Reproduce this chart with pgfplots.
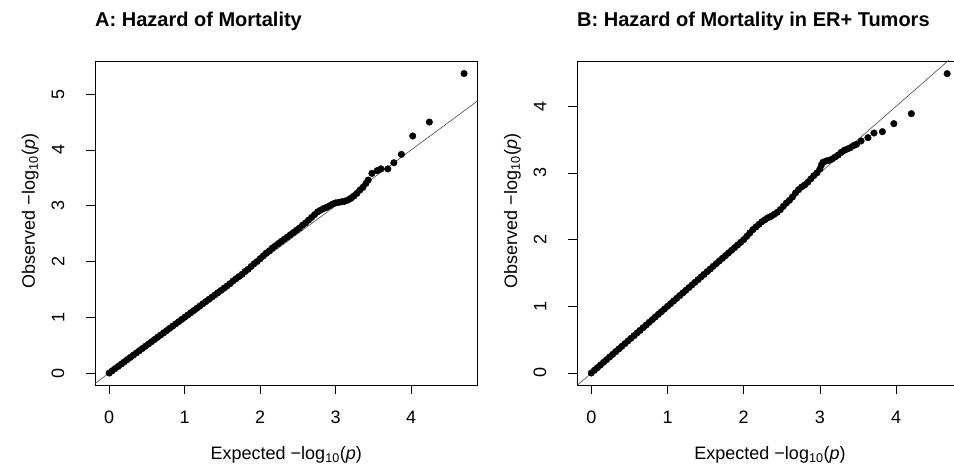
\documentclass[border=0pt]{standalone}
\usepackage{fontspec}
\setmainfont{Liberation Sans}
\usepackage{pgfplots}
\pgfplotsset{compat=1.18}

% R-style qq plot look
\pgfplotsset{
  rqq/.style={
    scale only axis,
    anchor=south west,
    axis line style={line width=0.8pt},
    tick style={line width=0.8pt, black},
    xtick pos=bottom, ytick pos=left,
    tick align=outside, major tick length=9pt,
    xtick={0,1,2,3,4},
    /pgf/number format/assume math mode=true,
    tick label style={font=\fontsize{18}{20}\selectfont},
    xticklabel style={anchor=north, inner sep=0pt, yshift=-17pt},
    yticklabel style={inner sep=0pt, xshift=-21.5pt, rotate=90, anchor=south},
    every axis x label/.style={at={(axis description cs:0.5,0)}, anchor=base, yshift=-75pt,
      font=\fontsize{18}{20}\selectfont},
    every axis y label/.style={at={(axis description cs:0,0.5)}, xshift=-60pt, yshift=12pt,
      rotate=90, anchor=base, font=\fontsize{18}{20}\selectfont},
    title style={at={(axis description cs:0,1)}, anchor=base west, yshift=28pt,
      inner sep=0pt, font=\fontsize{20}{22}\selectfont\bfseries},
    xlabel={Expected\ −log\textsubscript{10}(\textit{p})},
    ylabel={Observed\ −log\textsubscript{10}(\textit{p})},
  },
  qqline/.style={gray!60!black, line width=0.6pt, forget plot},
  qqpts/.style={only marks, mark=*, mark size=3.3pt, black},
}

\begin{document}
\begin{tikzpicture}
\path[use as bounding box] (0,0) rectangle (954pt,470pt);

% A
\begin{axis}[rqq,
  at={(95pt,85pt)}, width=382.5pt, height=324pt,
  xmin=-0.188, xmax=4.878, ymin=-0.215, ymax=5.595,
  ytick={0,1,2,3,4,5},
  title={A: Hazard of Mortality}]
\addplot[qqline] coordinates {(-1,-1) (7,7)};
\addplot[qqpts] coordinates {
(0.00,0.00)(0.04,0.04)(0.08,0.08)(0.12,0.12)(0.16,0.16)(0.20,0.20)(0.24,0.24)
(0.28,0.28)(0.32,0.32)(0.36,0.36)(0.40,0.40)(0.44,0.44)(0.48,0.48)(0.52,0.52)
(0.56,0.56)(0.60,0.60)(0.64,0.64)(0.68,0.68)(0.72,0.72)(0.76,0.76)(0.80,0.80)
(0.84,0.84)(0.88,0.88)(0.92,0.92)(0.96,0.96)(1.00,1.00)(1.04,1.04)(1.08,1.08)
(1.12,1.12)(1.16,1.16)(1.20,1.20)(1.24,1.24)(1.28,1.28)(1.32,1.32)(1.36,1.36)
(1.40,1.40)(1.44,1.44)(1.48,1.48)(1.52,1.52)(1.56,1.56)(1.60,1.60)
(1.64,1.65)(1.68,1.69)(1.72,1.73)(1.76,1.77)(1.80,1.82)(1.84,1.86)(1.88,1.91)
(1.92,1.96)(1.96,2.00)(2.00,2.05)(2.04,2.10)(2.08,2.15)(2.12,2.19)(2.16,2.24)
(2.20,2.28)(2.24,2.32)(2.28,2.36)(2.32,2.40)(2.36,2.44)(2.40,2.48)(2.44,2.52)
(2.48,2.56)(2.52,2.60)(2.56,2.65)(2.60,2.69)(2.64,2.74)(2.68,2.79)(2.72,2.84)
(2.76,2.89)(2.80,2.92)(2.84,2.95)(2.88,2.97)(2.92,3.00)(2.96,3.03)(3.00,3.05)
(3.04,3.06)(3.08,3.07)(3.12,3.08)(3.16,3.10)(3.20,3.13)(3.24,3.17)(3.28,3.22)
(3.32,3.28)(3.36,3.33)(3.40,3.40)(3.43,3.46)
(3.48,3.58)(3.55,3.63)(3.60,3.66)(3.69,3.66)(3.77,3.77)(3.87,3.92)
(4.02,4.25)(4.24,4.50)(4.70,5.37)
};
\end{axis}

% B
\begin{axis}[rqq,
  at={(577pt,85pt)}, width=386pt, height=324pt,
  xmin=-0.188, xmax=4.878, ymin=-0.18, ymax=4.68,
  ytick={0,1,2,3,4},
  title={B: Hazard of Mortality in ER+ Tumors}]
\addplot[qqline] coordinates {(-1,-1) (7,7)};
\addplot[qqpts] coordinates {
(0.00,0.00)(0.04,0.04)(0.08,0.08)(0.12,0.12)(0.16,0.16)(0.20,0.20)(0.24,0.24)
(0.28,0.28)(0.32,0.32)(0.36,0.36)(0.40,0.40)(0.44,0.44)(0.48,0.48)(0.52,0.52)
(0.56,0.56)(0.60,0.60)(0.64,0.64)(0.68,0.68)(0.72,0.72)(0.76,0.76)(0.80,0.80)
(0.84,0.84)(0.88,0.88)(0.92,0.92)(0.96,0.96)(1.00,1.00)(1.04,1.04)(1.08,1.08)
(1.12,1.12)(1.16,1.16)(1.20,1.20)(1.24,1.24)(1.28,1.28)(1.32,1.32)(1.36,1.36)
(1.40,1.40)(1.44,1.44)(1.48,1.48)(1.52,1.52)(1.56,1.56)(1.60,1.60)(1.64,1.64)
(1.68,1.68)(1.72,1.72)(1.76,1.76)(1.80,1.80)(1.84,1.84)(1.88,1.88)(1.92,1.92)
(1.96,1.96)(2.00,2.00)
(2.04,2.05)(2.08,2.10)(2.12,2.15)(2.16,2.19)(2.20,2.23)(2.24,2.27)(2.28,2.30)
(2.32,2.33)(2.36,2.35)(2.40,2.38)(2.44,2.41)(2.48,2.45)(2.52,2.50)(2.56,2.55)
(2.60,2.59)(2.64,2.64)(2.68,2.70)(2.72,2.75)(2.76,2.79)(2.80,2.82)(2.84,2.86)
(2.88,2.91)(2.92,2.96)(2.96,3.00)(3.00,3.06)(3.02,3.12)(3.04,3.16)(3.08,3.18)
(3.12,3.19)(3.16,3.21)(3.20,3.24)(3.24,3.27)(3.28,3.31)(3.32,3.34)(3.36,3.36)
(3.40,3.38)(3.44,3.41)(3.48,3.43)
(3.54,3.48)(3.63,3.53)(3.71,3.60)(3.82,3.62)(3.97,3.74)(4.20,3.89)(4.67,4.49)
};
\end{axis}
\end{tikzpicture}
\end{document}
